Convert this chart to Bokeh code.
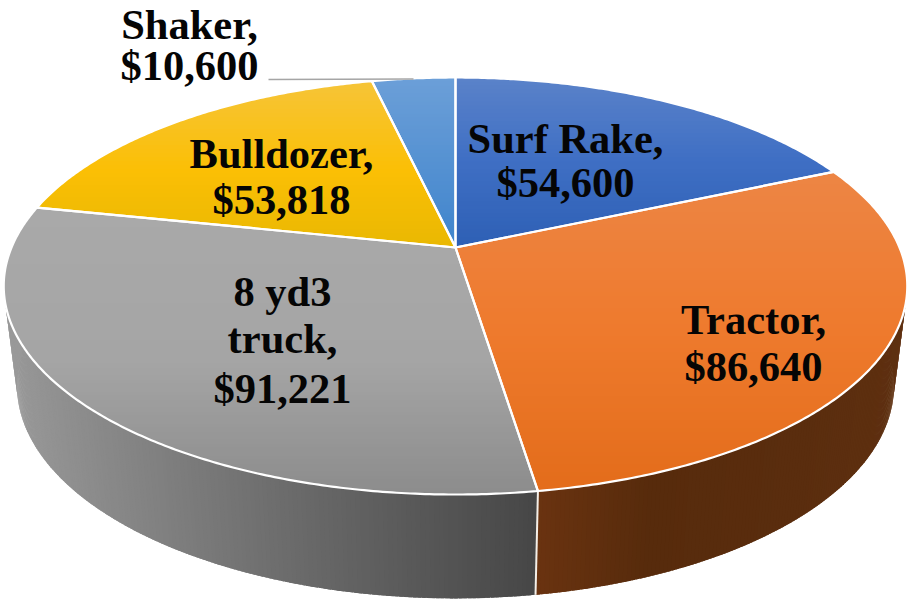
import numpy as np
from bokeh.embed import file_html
from bokeh.models import ColumnDataSource, Range1d
from bokeh.plotting import figure
from bokeh.resources import INLINE
from bokeh.core.properties import value

# ---- data ----
categories = ["Surf Rake", "Tractor", "8 yd3 truck", "Bulldozer", "Shaker"]
costs = [54600, 86640, 91221, 53818, 10600]

# ---- colour stops (position in px, hex) ----
top_stops = {
    "Surf Rake": ([78, 160, 245], ["#5a82c9", "#3f6fc4", "#2e60b5"]),
    "Tractor": ([175, 330, 494], ["#ed8544", "#ee7a2d", "#e36c1a"]),
    "8 yd3 truck": ([207, 360, 494], ["#a9a9a9", "#a5a5a5", "#8c8c8c"]),
    "Bulldozer": ([84, 170, 247], ["#f6c436", "#fbbf05", "#e9b802"]),
    "Shaker": ([77, 247], ["#6c9fd8", "#3f84cc"]),
}
wall_stops = {
    "Tractor": ([537, 650, 800, 905], ["#6a3310", "#572b0c", "#5a2d0e", "#5f3010"]),
    "8 yd3 truck": ([5, 100, 300, 535], ["#9a9a9a", "#8a8a8a", "#6a6a6a", "#474747"]),
}
# label lines: (centre x, baseline y of each line)
label_layout = {
    "Surf Rake": (565, [152, 196]),
    "Tractor": (753, [333, 380]),
    "8 yd3 truck": (282, [305, 352, 402]),
    "Bulldozer": (281, [167, 213]),
    "Shaker": (189, [38, 79]),
}
BASE_SHIFT = -14

# ---- projection of the tilted disc ----
CX, CY, K = 455.0, 247.0, 0.1847
def top_pt(t):
    t = np.radians(t)
    d = 1 + K * np.cos(t)
    return 455 + 444 * np.sin(t) / d, CY - 201.4 * np.cos(t) / d
def bot_pt(t):
    t = np.radians(t)
    d = 1 + K * np.cos(t)
    return 455 + 431 * np.sin(t) / d, 345.6 - 205.7 * np.cos(t) / d

def hex_rgb(h):
    return np.array([int(h[i:i + 2], 16) for i in (1, 3, 5)], float)
def interp_col(pos, stops):
    xs, cols = stops
    c = np.array([hex_rgb(h) for h in cols])
    rgb = [int(round(np.interp(pos, xs, c[:, i]))) for i in range(3)]
    return "#%02x%02x%02x" % tuple(rgb)

def clip_below(poly, y0):
    """keep the part of polygon with y >= y0"""
    out = []
    n = len(poly)
    for i in range(n):
        a, b = poly[i], poly[(i + 1) % n]
        ia, ib = a[1] >= y0, b[1] >= y0
        if ia:
            out.append(a)
        if ia != ib:
            f = (y0 - a[1]) / (b[1] - a[1])
            out.append((a[0] + f * (b[0] - a[0]), y0))
    return out

total = sum(costs)
edges = np.concatenate([[0], np.cumsum(costs) / total * 360])

W, H = 909, 605
p = figure(width=W, height=H, x_range=Range1d(0, W), y_range=Range1d(H, 0),
           output_backend="svg", toolbar_location=None, min_border=0,
           margin=(0, 0, 0, 0), background_fill_color="white")
p.axis.visible = False
p.grid.visible = False
p.outline_line_color = None

# ---- side wall ----
xs, ys, cs = [], [], []
for name, a0, a1 in zip(categories, edges[:-1], edges[1:]):
    if name not in wall_stops:
        continue
    n = int(np.ceil(a1 - a0)) * 2
    ang = np.linspace(a0, a1, n + 1)
    for s, e in zip(ang[:-1], ang[1:]):
        e2 = min(e + 0.4, a1)
        tx0, ty0 = top_pt(s); tx1, ty1 = top_pt(e2)
        bx0, by0 = bot_pt(s); bx1, by1 = bot_pt(e2)
        xs.append([tx0, tx1, bx1, bx0]); ys.append([ty0, ty1, by1, by0])
        cs.append(interp_col((tx0 + bx0) / 2, wall_stops[name]))
p.patches("xs", "ys", source=ColumnDataSource(dict(xs=xs, ys=ys, c=cs)),
          fill_color="c", line_color=None)

# separator on the wall
a_sep = edges[2]
p.line([top_pt(a_sep)[0], bot_pt(a_sep)[0]], [top_pt(a_sep)[1], bot_pt(a_sep)[1]],
       line_color="#f4efe8", line_width=2)

# ---- top face, each wedge shaded downward ----
xs, ys, cs = [], [], []
ox, oy = [], []
for name, a0, a1 in zip(categories, edges[:-1], edges[1:]):
    ang = np.linspace(a0, a1, int(np.ceil(a1 - a0)) * 2 + 1)
    arc = [top_pt(a) for a in ang]
    poly = [(CX, CY)] + arc
    ymin = min(q[1] for q in poly)
    ymax = max(q[1] for q in poly)
    for y0 in np.arange(ymin, ymax, 4.0):
        cl = clip_below(poly, y0) if y0 > ymin else poly
        if len(cl) >= 3:
            xs.append([q[0] for q in cl]); ys.append([q[1] for q in cl])
            cs.append(interp_col(y0 + 2, top_stops[name]))
    ox.append([q[0] for q in poly] + [CX]); oy.append([q[1] for q in poly] + [CY])
p.patches("xs", "ys", source=ColumnDataSource(dict(xs=xs, ys=ys, c=cs)),
          fill_color="c", line_color=None)
p.multi_line(ox, oy, line_color="white", line_width=2.2, line_join="round")

# ---- leader line for the small slice ----
lead_x, lead_y = top_pt((edges[4] + edges[5]) / 2)
p.line([268, lead_x], [79, 78.5], line_color="#a5a5a5", line_width=1.5)

# ---- labels ----
tx, ty, tt = [], [], []
for name, cost in zip(categories, costs):
    cx, bases = label_layout[name]
    if name == "8 yd3 truck":
        lines = ["8 yd3", "truck,", f"${cost:,}"]
    else:
        lines = [f"{name},", f"${cost:,}"]
    for line, b in zip(lines, bases):
        tx.append(cx); ty.append(b + BASE_SHIFT); tt.append(line)
p.text(tx, ty, text=tt, text_font=value("Liberation Serif"), text_font_style="bold",
       text_font_size="42.5px", text_color="#050505", text_align="center",
       text_baseline="alphabetic")

open("out.html", "w").write(file_html(p, INLINE))
